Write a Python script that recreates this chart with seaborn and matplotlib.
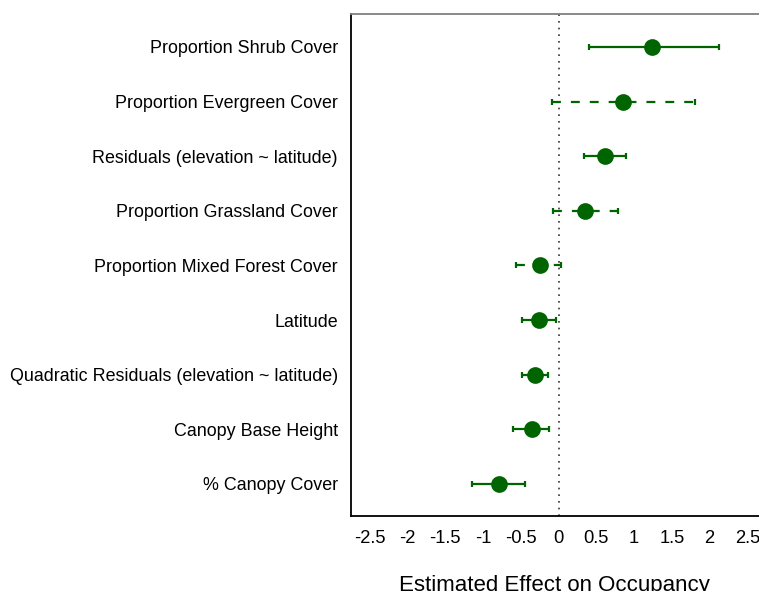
import matplotlib
matplotlib.use("Agg")
import matplotlib.pyplot as plt
import seaborn as sns
import numpy as np
import pandas as pd

labels = ["Proportion Shrub Cover", "Proportion Evergreen Cover",
          "Residuals (elevation ~ latitude)", "Proportion Grassland Cover",
          "Proportion Mixed Forest Cover", "Latitude",
          "Quadratic Residuals (elevation ~ latitude)", "Canopy Base Height",
          "% Canopy Cover"]
estimate = [1.24, 0.85, 0.61, 0.35, -0.25, -0.26, -0.31, -0.35, -0.79]
lower = [0.41, -0.09, 0.34, -0.07, -0.56, -0.48, -0.48, -0.60, -1.15]
upper = [2.12, 1.81, 0.90, 0.79, 0.03, -0.04, -0.14, -0.12, -0.45]
dashed = [False, True, False, True, True, False, False, False, False]
xticks = [-2.5, -2, -1.5, -1, -0.5, 0, 0.5, 1, 1.5, 2, 2.5]
xticklabels = ["-2.5", "-2", "-1.5", "-1", "-0.5", "0", "0.5", "1", "1.5", "2", "2.5"]

df = pd.DataFrame({"label": labels, "est": estimate, "lo": lower, "hi": upper,
                   "dashed": dashed})

sns.set_style("white")
plt.rcParams['font.family'] = ['Liberation Sans', 'DejaVu Sans']

green = "#006400"
fig = plt.figure(figsize=(7.59, 5.91), dpi=100)
ax = fig.add_axes([350.5 / 759, 75 / 591, 1 - 350.5 / 759, (516 - 14) / 591])

ax.axvline(0, color="#333333", linestyle=(0, (1, 3)), linewidth=1.2, zorder=1)

pos = np.arange(len(df))
for i, row in df.iterrows():
    ls = (0, (4, 4.5)) if row["dashed"] else "-"
    eb = ax.errorbar(row["est"], pos[i],
                     xerr=[[row["est"] - row["lo"]], [row["hi"] - row["est"]]],
                     fmt="none", ecolor=green, elinewidth=1.6, capsize=2,
                     capthick=1.6, zorder=2)
    eb[2][0].set_linestyle(ls)

sns.pointplot(data=df, x="est", y="label", orient="h", color=green,
              linestyle="none", markers="o", markersize=10, errorbar=None,
              ax=ax, zorder=3)

ax.set_xlim(-2.755, 2.655)
ax.set_ylim(8.586, -0.604)
ax.set_xticks(xticks)
ax.set_xticklabels(xticklabels)
ax.tick_params(axis="both", colors="black", labelcolor="black", direction="out")
ax.tick_params(axis="x", length=5, width=1, pad=5, labelsize=13.2)
ax.tick_params(axis="y", length=5, width=1, pad=4, labelsize=12.9)
ax.set_ylabel("")
ax.set_xlabel("Estimated Effect on Occupancy", fontsize=16, labelpad=20,
              color="black")

for s in ["left", "bottom"]:
    ax.spines[s].set_color("black")
    ax.spines[s].set_linewidth(1.3)
ax.spines["top"].set_color("#808080")
ax.spines["top"].set_linewidth(1.3)
ax.spines["right"].set_visible(False)

fig.savefig("out.png", dpi=100)
